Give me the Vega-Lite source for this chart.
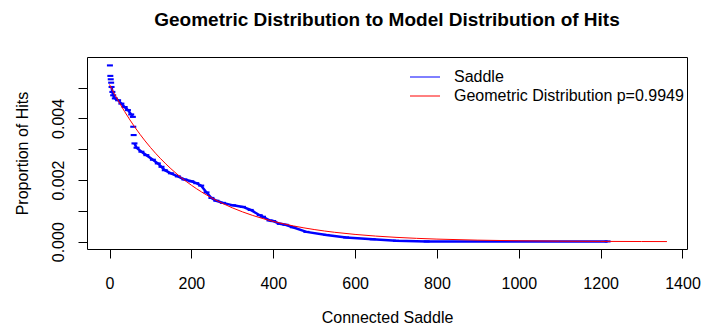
{
  "$schema": "https://vega.github.io/schema/vega-lite/v6.json",
  "width": 600,
  "height": 192,
  "autosize": {"type": "none"},
  "padding": {"left": 87, "top": 57, "right": 17, "bottom": 78},
  "background": "white",
  "title": {
    "text": "Geometric Distribution to Model Distribution of Hits",
    "font": "Liberation Sans",
    "fontSize": 19,
    "fontWeight": "bold",
    "color": "#000000",
    "anchor": "middle",
    "baseline": "alphabetic",
    "offset": 12
  },
  "config": {
    "view": {"stroke": "#000000", "strokeWidth": 1},
    "axis": {
      "grid": false,
      "domain": false,
      "tickColor": "#000000",
      "tickSize": 9,
      "labelFont": "Liberation Sans",
      "labelFontSize": 16,
      "labelColor": "#000000",
      "titleFont": "Liberation Sans",
      "titleFontSize": 16,
      "titleFontWeight": "normal",
      "titleColor": "#000000"
    },
    "legend": {
      "labelFont": "Liberation Sans",
      "labelFontSize": 16,
      "labelColor": "#000000",
      "labelLimit": 400
    }
  },
  "data": {
    "values": [
      {"series": "Saddle", "x": 1, "y": 0.00572},
      {"series": "Saddle", "x": 2, "y": 0.00538},
      {"series": "Saddle", "x": 3, "y": 0.00527},
      {"series": "Saddle", "x": 4, "y": 0.00516},
      {"series": "Saddle", "x": 5, "y": 0.00502},
      {"series": "Saddle", "x": 7, "y": 0.00486},
      {"series": "Saddle", "x": 9, "y": 0.00475},
      {"series": "Saddle", "x": 13, "y": 0.00465},
      {"series": "Saddle", "x": 21, "y": 0.00459},
      {"series": "Saddle", "x": 29, "y": 0.00448},
      {"series": "Saddle", "x": 37, "y": 0.00437},
      {"series": "Saddle", "x": 45, "y": 0.00427},
      {"series": "Saddle", "x": 53, "y": 0.00413},
      {"series": "Saddle", "x": 57, "y": 0.00405},
      {"series": "Saddle", "x": 58, "y": 0.00373},
      {"series": "Saddle", "x": 59, "y": 0.00346},
      {"series": "Saddle", "x": 61, "y": 0.00319},
      {"series": "Saddle", "x": 66, "y": 0.00305},
      {"series": "Saddle", "x": 78, "y": 0.00292},
      {"series": "Saddle", "x": 90, "y": 0.00281},
      {"series": "Saddle", "x": 106, "y": 0.00266},
      {"series": "Saddle", "x": 118, "y": 0.00254},
      {"series": "Saddle", "x": 127, "y": 0.00243},
      {"series": "Saddle", "x": 135, "y": 0.00232},
      {"series": "Saddle", "x": 150, "y": 0.00222},
      {"series": "Saddle", "x": 167, "y": 0.00212},
      {"series": "Saddle", "x": 183, "y": 0.00202},
      {"series": "Saddle", "x": 200, "y": 0.00196},
      {"series": "Saddle", "x": 212, "y": 0.0019},
      {"series": "Saddle", "x": 224, "y": 0.00182},
      {"series": "Saddle", "x": 237, "y": 0.0016},
      {"series": "Saddle", "x": 249, "y": 0.00142},
      {"series": "Saddle", "x": 261, "y": 0.00133},
      {"series": "Saddle", "x": 277, "y": 0.00126},
      {"series": "Saddle", "x": 302, "y": 0.00118},
      {"series": "Saddle", "x": 326, "y": 0.00113},
      {"series": "Saddle", "x": 345, "y": 0.00103},
      {"series": "Saddle", "x": 367, "y": 0.00086},
      {"series": "Saddle", "x": 375, "y": 0.00081},
      {"series": "Saddle", "x": 391, "y": 0.00069},
      {"series": "Saddle", "x": 400, "y": 0.00067},
      {"series": "Saddle", "x": 416, "y": 0.00058},
      {"series": "Saddle", "x": 430, "y": 0.00055},
      {"series": "Saddle", "x": 448, "y": 0.00047},
      {"series": "Saddle", "x": 481, "y": 0.00032},
      {"series": "Saddle", "x": 530, "y": 0.00022},
      {"series": "Saddle", "x": 578, "y": 0.00014},
      {"series": "Saddle", "x": 643, "y": 0.00008},
      {"series": "Saddle", "x": 700, "y": 0.00003},
      {"series": "Saddle", "x": 775, "y": 0.00001},
      {"series": "Saddle", "x": 1217, "y": 0.00001},
      {"series": "Geometric Distribution p=0.9949", "x": 0, "y": 0.0051},
      {"series": "Geometric Distribution p=0.9949", "x": 12, "y": 0.004796},
      {"series": "Geometric Distribution p=0.9949", "x": 25, "y": 0.004488},
      {"series": "Geometric Distribution p=0.9949", "x": 37, "y": 0.004221},
      {"series": "Geometric Distribution p=0.9949", "x": 50, "y": 0.00395},
      {"series": "Geometric Distribution p=0.9949", "x": 62, "y": 0.003714},
      {"series": "Geometric Distribution p=0.9949", "x": 75, "y": 0.003476},
      {"series": "Geometric Distribution p=0.9949", "x": 87, "y": 0.003269},
      {"series": "Geometric Distribution p=0.9949", "x": 100, "y": 0.003059},
      {"series": "Geometric Distribution p=0.9949", "x": 125, "y": 0.002692},
      {"series": "Geometric Distribution p=0.9949", "x": 150, "y": 0.002369},
      {"series": "Geometric Distribution p=0.9949", "x": 175, "y": 0.002084},
      {"series": "Geometric Distribution p=0.9949", "x": 200, "y": 0.001834},
      {"series": "Geometric Distribution p=0.9949", "x": 225, "y": 0.001614},
      {"series": "Geometric Distribution p=0.9949", "x": 250, "y": 0.00142},
      {"series": "Geometric Distribution p=0.9949", "x": 275, "y": 0.00125},
      {"series": "Geometric Distribution p=0.9949", "x": 300, "y": 0.0011},
      {"series": "Geometric Distribution p=0.9949", "x": 350, "y": 0.000852},
      {"series": "Geometric Distribution p=0.9949", "x": 400, "y": 0.00066},
      {"series": "Geometric Distribution p=0.9949", "x": 450, "y": 0.000511},
      {"series": "Geometric Distribution p=0.9949", "x": 500, "y": 0.000396},
      {"series": "Geometric Distribution p=0.9949", "x": 550, "y": 0.000306},
      {"series": "Geometric Distribution p=0.9949", "x": 600, "y": 0.000237},
      {"series": "Geometric Distribution p=0.9949", "x": 700, "y": 0.000142},
      {"series": "Geometric Distribution p=0.9949", "x": 800, "y": 0.0000853},
      {"series": "Geometric Distribution p=0.9949", "x": 900, "y": 0.0000512},
      {"series": "Geometric Distribution p=0.9949", "x": 1000, "y": 0.0000307},
      {"series": "Geometric Distribution p=0.9949", "x": 1100, "y": 0.0000184},
      {"series": "Geometric Distribution p=0.9949", "x": 1200, "y": 0.000011},
      {"series": "Geometric Distribution p=0.9949", "x": 1300, "y": 0.0000066},
      {"series": "Geometric Distribution p=0.9949", "x": 1362, "y": 0.0000048}
    ]
  },
  "encoding": {
    "x": {
      "field": "x",
      "type": "quantitative",
      "scale": {"domain": [-55, 1411], "nice": false, "zero": false},
      "axis": {
        "values": [0, 200, 400, 600, 800, 1000, 1200, 1400],
        "format": "d",
        "labelFlush": false,
        "labelOverlap": false,
        "labelBaseline": "alphabetic",
        "labelPadding": 30,
        "title": "Connected Saddle",
        "titleBaseline": "alphabetic",
        "titleY": 73
      }
    },
    "y": {
      "field": "y",
      "type": "quantitative",
      "scale": {"domain": [-0.000236, 0.005993], "nice": false, "zero": false},
      "axis": {
        "values": [0, 0.001, 0.002, 0.003, 0.004, 0.005],
        "labelExpr": "indexof(['0.000','0.002','0.004'], format(datum.value, '.3f')) >= 0 ? format(datum.value, '.3f') : ''",
        "labelAngle": -90,
        "labelAlign": "center",
        "labelBaseline": "alphabetic",
        "labelPadding": 15,
        "labelOverlap": false,
        "labelFlush": false,
        "title": "Proportion of Hits",
        "titleAngle": -90,
        "titleAlign": "center",
        "titleBaseline": "alphabetic",
        "titleX": -60,
        "titleY": 96
      }
    }
  },
  "layer": [
    {
      "transform": [{"filter": "datum.series === 'Saddle' && datum.x >= 5 && datum.x <= 57"}],
      "mark": {"type": "line", "strokeWidth": 2.5, "interpolate": "linear"},
      "encoding": {
        "color": {
          "field": "series",
          "type": "nominal",
          "scale": {
            "domain": ["Saddle", "Geometric Distribution p=0.9949"],
            "range": ["#0000FF", "#FF0000"]
          },
          "legend": {
            "title": null,
            "orient": "none",
            "legendX": 330,
            "legendY": 12,
            "padding": 0,
            "symbolType": "M-2,0H2",
            "symbolSize": 225,
            "symbolStrokeWidth": 1,
            "labelOffset": 21,
            "rowPadding": 3
          }
        }
      }
    },
    {
      "transform": [{"filter": "datum.series === 'Saddle' && datum.x >= 61"}],
      "mark": {"type": "line", "strokeWidth": 2.5, "interpolate": "linear"},
      "encoding": {
        "color": {"field": "series", "type": "nominal"}
      }
    },
    {
      "transform": [{"filter": "datum.series === 'Saddle'"}],
      "mark": {
        "type": "point",
        "shape": "M-1,-0.35H1V0.35H-1Z",
        "size": 36,
        "filled": true,
        "opacity": 1,
        "color": "#0000FF"
      }
    },
    {
      "transform": [{"filter": "datum.series !== 'Saddle'"}],
      "mark": {"type": "line", "strokeWidth": 1, "interpolate": "monotone"},
      "encoding": {
        "color": {"field": "series", "type": "nominal"}
      }
    }
  ]
}
